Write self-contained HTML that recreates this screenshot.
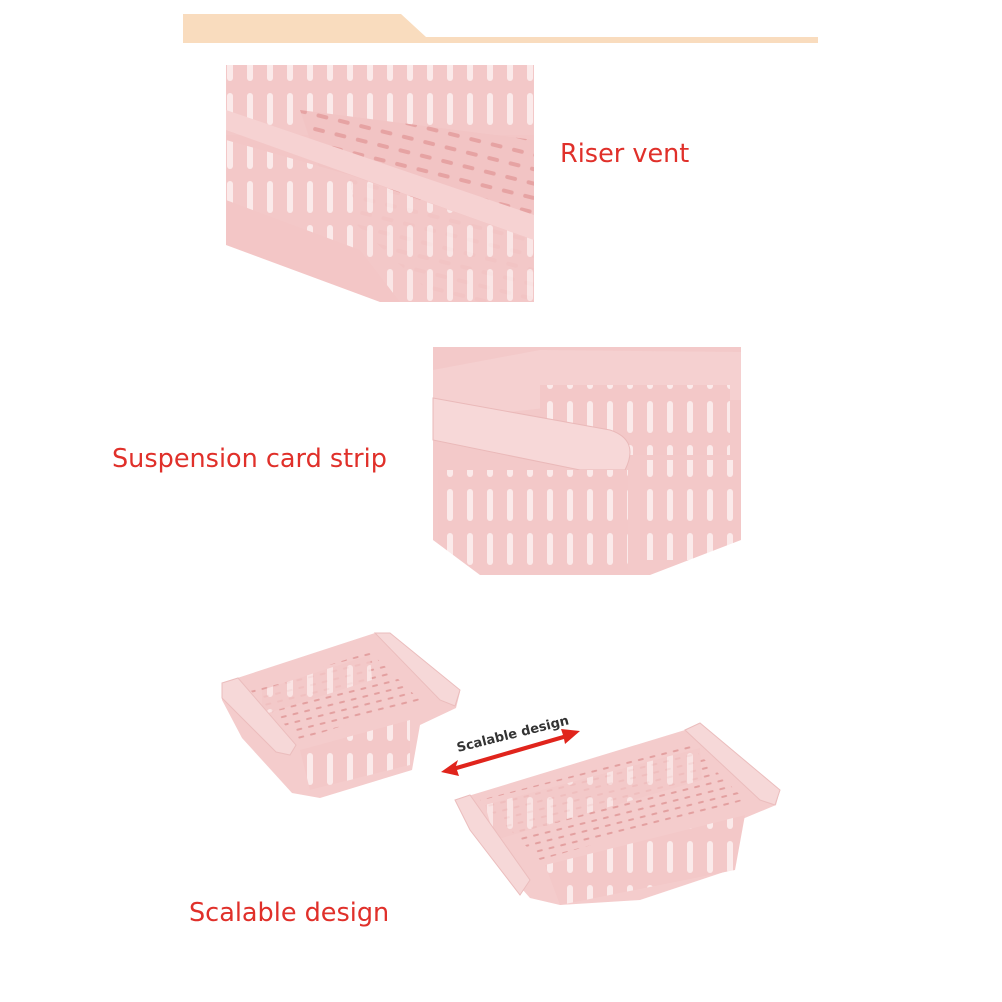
<!DOCTYPE html>
<html><head><meta charset="utf-8"><style>
html,body{margin:0;padding:0;background:#fff}
svg{display:block}
.lbl{font-family:"DejaVu Sans","Liberation Sans",sans-serif;fill:#e0302a;font-size:25.5px}
</style></head><body>
<svg width="1002" height="1002" viewBox="0 0 1002 1002" xmlns="http://www.w3.org/2000/svg">
<defs>
<pattern id="slotsV" width="20" height="44" patternUnits="userSpaceOnUse">
<rect width="20" height="44" fill="#f3c8c8"/><rect x="7" y="5" width="6" height="32" rx="3" fill="#fbeaea"/></pattern>
<pattern id="holes" width="22" height="14" patternUnits="userSpaceOnUse" patternTransform="rotate(14)">
<rect width="22" height="14" fill="#f2c4c4"/><rect x="5" y="5" width="12" height="4" rx="2" fill="#e6a3a3"/></pattern>
<pattern id="holesS" width="12" height="8" patternUnits="userSpaceOnUse" patternTransform="rotate(-14)">
<rect width="12" height="8" fill="#f4cccc"/><rect x="3" y="3" width="6" height="2" rx="1" fill="#e3a0a0"/></pattern>
</defs>
<rect width="1002" height="1002" fill="#fff"/>
<path d="M183 14 L401 14 L426 37 L818 37 L818 43 L183 43 Z" fill="#f9dcbe"/>

<g>
<rect x="226" y="65" width="308" height="237" fill="#f3c6c6"/>
<rect x="226" y="65" width="308" height="70" fill="url(#slotsV)"/>
<polygon points="300,110 534,140 534,302 440,302 330,200" fill="url(#holes)"/>
<polygon points="226,110 534,215 534,240 226,130" fill="#f6d2d2"/>
<polygon points="226,140 350,175 360,250 226,200" fill="url(#slotsV)"/>
<polygon points="350,175 534,240 534,302 400,302 360,250" fill="url(#slotsV)" opacity="0.9"/>
<polygon points="226,245 226,302 380,302" fill="#fff"/>
</g>
<text x="560" y="162" class="lbl">Riser vent</text>

<g>
<rect x="433" y="347" width="308" height="228" fill="#f3c9c9"/>
<polygon points="433,370 540,350 741,352 741,400 620,400 433,420" fill="#f5d0d0"/>
<rect x="540" y="385" width="190" height="70" fill="url(#slotsV)"/>
<path d="M433 398 L610 430 Q640 440 625 470 L580 470 L433 440 Z" fill="#f7d8d8" stroke="#eab9b9"/>
<rect x="438" y="470" width="190" height="100" fill="url(#slotsV)"/>
<rect x="640" y="460" width="101" height="100" fill="url(#slotsV)"/>
<polygon points="433,540 433,575 480,575" fill="#fff"/>
<polygon points="650,575 741,540 741,575" fill="#fff"/>
</g>
<text x="112" y="467" class="lbl">Suspension card strip</text>

<g>
<polygon points="222,683 375,633 387,636 460,692 456,708 420,725 412,770 320,798 292,793 242,738 222,700" fill="#f4cccc"/>
<polygon points="250,690 370,652 420,700 300,740" fill="url(#holesS)"/>
<polygon points="262,690 370,655 372,680 262,715" fill="url(#slotsV)" opacity="0.8"/>
<polygon points="300,750 410,720 410,765 310,790" fill="url(#slotsV)"/>
<polygon points="222,683 238,678 296,745 290,755 276,752 222,698" fill="#f6d8d8" stroke="#ebbdbd"/>
<polygon points="375,633 390,633 460,690 455,706 440,700" fill="#f6d8d8" stroke="#ebbdbd"/>
</g>

<g>
<polygon points="455,800 685,730 700,723 780,790 776,805 740,820 730,870 640,900 560,905 530,898 470,830" fill="#f4cccc"/>
<polygon points="480,800 690,745 745,800 540,860" fill="url(#holesS)"/>
<polygon points="485,805 700,748 702,780 495,840" fill="url(#slotsV)" opacity="0.75"/>
<polygon points="545,865 745,815 735,870 560,905" fill="url(#slotsV)"/>
<polygon points="455,800 470,795 530,880 520,895 470,830" fill="#f6d8d8" stroke="#ebbdbd"/>
<polygon points="685,730 700,723 780,790 775,805 760,800" fill="#f6d8d8" stroke="#ebbdbd"/>
</g>

<g fill="#e0241c">
<polygon points="441,772 458,760 456,766 563,735 561,729 580,731 565,744 564,739 457,770 459,776"/>
</g>
<text x="0" y="0" transform="translate(458,752) rotate(-14)" font-family="DejaVu Sans,Liberation Sans,sans-serif" font-weight="bold" font-size="13" fill="#333">Scalable design</text>

<text x="189" y="921" class="lbl">Scalable design</text>
</svg>
</body></html>
